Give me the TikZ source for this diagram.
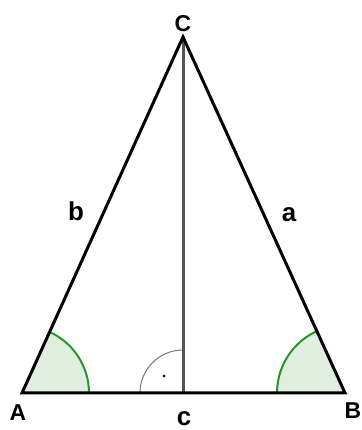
\documentclass[tikz,border=0pt]{standalone}
\usepackage{fontspec}
\setmainfont{Liberation Sans}
\usetikzlibrary{calc}
\definecolor{anggreen}{RGB}{40,150,40}
\definecolor{angfill}{RGB}{224,238,224}
\definecolor{altgrey}{RGB}{85,85,85}
\definecolor{rgrey}{RGB}{120,120,120}
\begin{document}
\begin{tikzpicture}[x=1bp,y=1bp,
  side/.style={line width=3bp,black},
  alt/.style={line width=3bp,altgrey},
  vlabel/.style={inner sep=0pt,font=\bfseries\fontsize{23}{26}\selectfont},
  slabel/.style={inner sep=0pt,font=\bfseries\fontsize{26}{30}\selectfont}]
\useasboundingbox (0,0) rectangle (362,430);
\coordinate (A) at (22,37);
\coordinate (B) at (345,37);
\coordinate (C) at (183,393);
\coordinate (F) at (183,37);
% angle fills
\fill[angfill] (A) -- ++(0:67) arc[start angle=0,end angle=65.7,radius=67] -- cycle;
\draw[anggreen,line width=2bp] ([shift={(0:67)}]A) arc[start angle=0,end angle=65.7,radius=67];
\fill[angfill] (B) -- ++(180:68) arc[start angle=180,end angle=114.5,radius=68] -- cycle;
\draw[anggreen,line width=2bp] ([shift={(180:68)}]B) arc[start angle=180,end angle=114.5,radius=68];
% right angle
\draw[rgrey,line width=1bp] ([shift={(180:43)}]F) arc[start angle=180,end angle=90,radius=43];
\fill[black] ($(F)+(-19,17)$) circle[radius=1.5];
% altitude
\draw[alt] (C) -- (F);
% sides
\draw[side,line join=miter] (A) -- (B) -- (C) -- cycle;
% labels
\node[vlabel] (lC) at (183,406) {C};
\node[vlabel] (lA) at (18,17) {A};
\node[vlabel] (lB) at (353,19) {B};
\node[slabel,anchor=base] (lc) at (184,5) {c};
\node[slabel] (lb) at (76,219) {b};
\node[slabel] (la) at (289,215) {a};
\end{tikzpicture}
\end{document}
